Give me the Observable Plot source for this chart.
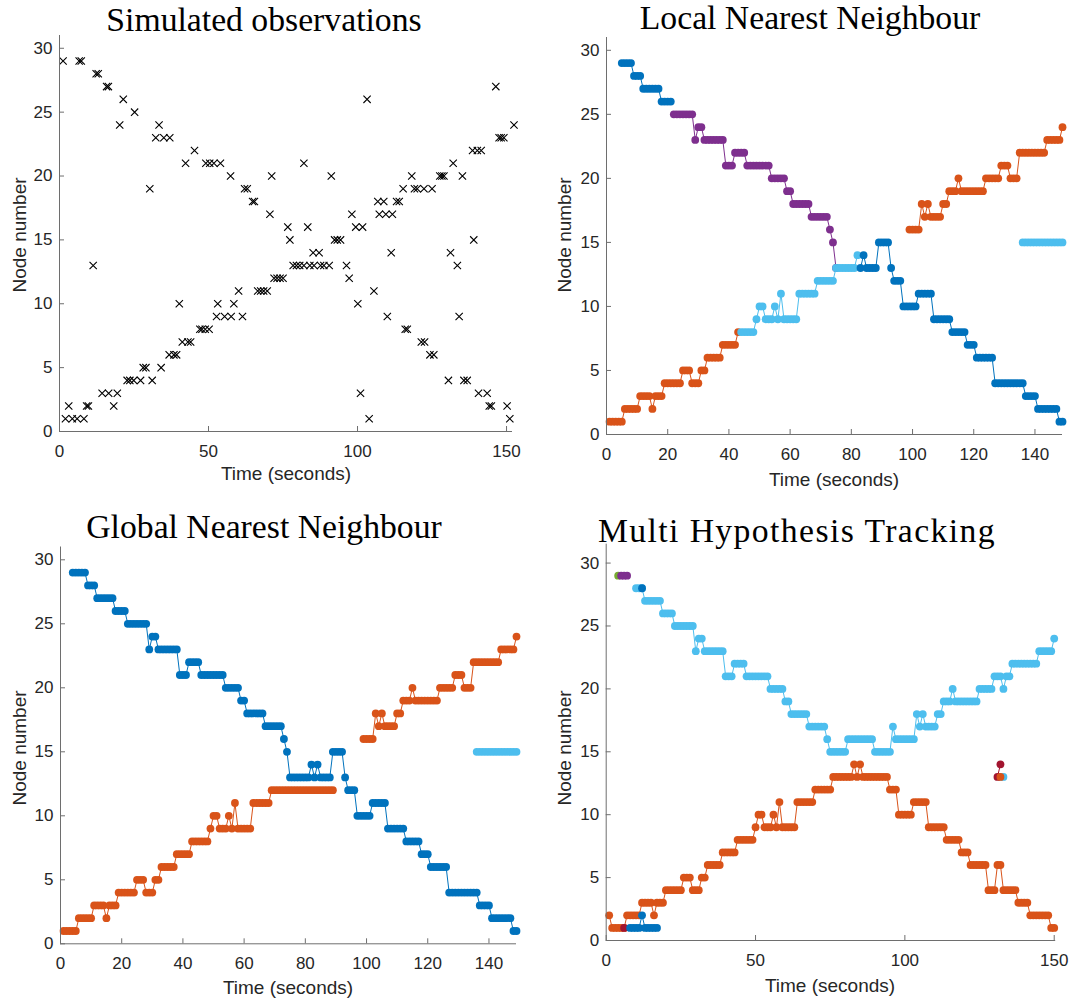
<!DOCTYPE html>
<html>
<head>
<meta charset="utf-8">
<script src="https://cdn.jsdelivr.net/npm/d3@7"></script>
<script src="https://cdn.jsdelivr.net/npm/@observablehq/plot@0.6"></script>
<style>
  body { margin: 0; background: #fff; }
  #fig { position: relative; width: 1072px; height: 999px; overflow: hidden; background: #fff; }
  .panel { position: absolute; }
  .title { position: absolute; font-family: "Liberation Serif", "Times New Roman", serif; font-size: 33.7px; line-height: 1; color: #000; white-space: nowrap; transform: translateX(-50%); }
  .xlab { position: absolute; font-family: "Liberation Sans", Arial, sans-serif; font-size: 19px; line-height: 1; color: #262626; white-space: nowrap; transform: translateX(-50%); }
  .ylab { position: absolute; font-family: "Liberation Sans", Arial, sans-serif; font-size: 19px; line-height: 1; color: #262626; white-space: nowrap; transform: translate(-50%, -50%) rotate(-90deg); }
</style>
</head>
<body>
<div id="fig"></div>
<script>
// ---------- tick values ----------
const yTicks = [0, 5, 10, 15, 20, 25, 30];
const xTicksCoarse = [0, 50, 100, 150];
const xTicksFine = [0, 20, 40, 60, 80, 100, 120, 140];

// ---------- MATLAB default line colours ----------
const cBlue = "#0072BD", cOrange = "#D95319", cPurple = "#7E2F8E",
      cGreen = "#77AC30", cCyan = "#4DBEEE", cRed = "#A2142F";

// ---------- simulated observations: node number and the times it was observed ----------
const obsNodes = [29, 28, 27, 26, 25, 24, 23, 22, 21, 20, 19, 18, 17, 16, 15, 14, 13, 12, 11, 10, 9, 8, 7, 6, 5, 4, 3, 2, 1];
const obsTimes = [
  [1.2, 6.6, 7.3],
  [12.3, 13.0],
  [15.8, 16.4, 146.4],
  [21.4, 103.2],
  [25.2],
  [20.2, 33.4, 152.5],
  [32.3, 35.0, 37.0, 147.5, 148.2, 149.1],
  [45.3, 138.6, 140.2, 141.5],
  [42.3, 49.1, 50.4, 51.8, 54.0, 82.0, 132.1],
  [57.4, 71.2, 91.2, 118.2, 127.6, 128.3, 129.0, 135.2],
  [30.3, 62.1, 63.0, 115.3, 119.1, 120.0, 122.3, 125.0],
  [64.8, 65.4, 106.8, 108.8, 113.1, 114.0],
  [70.6, 98.1, 107.3, 109.5, 111.7],
  [76.6, 83.3, 99.4, 101.7],
  [77.3, 92.3, 93.2, 94.3, 139.0],
  [85.1, 87.1, 111.3, 131.2],
  [11.3, 78.4, 79.5, 80.6, 82.0, 84.0, 85.4, 87.6, 88.7, 90.5, 96.3, 133.5],
  [72.0, 73.0, 74.0, 75.0, 97.2],
  [60.1, 66.5, 67.5, 68.5, 69.7, 105.5],
  [40.2, 53.1, 58.5, 100.1],
  [52.7, 55.4, 57.6, 61.4, 110.0, 134.1],
  [47.1, 47.8, 48.9, 50.2, 116.0, 116.7],
  [41.2, 43.1, 44.0, 121.4, 122.5],
  [36.8, 38.4, 39.3, 124.3, 125.6],
  [28.1, 29.0, 34.1],
  [22.7, 23.6, 24.9, 27.2, 31.1, 130.5, 135.7, 136.8],
  [14.3, 16.5, 19.4, 101.0, 140.6, 143.5],
  [3.1, 9.1, 9.7, 18.2, 144.2, 144.9, 150.2],
  [2.0, 4.3, 5.9, 8.2, 103.9, 151.1]
];

// ---------- tracks: runs of [node, first second, last second] ----------
// Local Nearest Neighbour
const lnnBlueA = [[29,5,8],[28,9,11],[27,12,17],[26,18,21]];
const lnnOrangeA = [[1,1,5],[2,6,10],[3,11,14],[2,15,15],[3,16,18],[4,19,24],[5,25,27],[4,28,30],[5,31,32],[6,33,37],[7,38,42],[8,43,43]];
const lnnPurple = [[25,22,28],[23,29,29],[24,30,31],[23,32,38],[21,39,41],[22,42,45],[21,46,53],[20,54,58],[19,59,60],[18,61,66],[17,67,72],[16,73,73],[15,74,74],[13,75,75]];
const lnnCyanA = [[8,44,48],[9,49,49],[10,50,51],[9,52,54],[10,55,55],[9,56,56],[11,57,57],[9,58,62],[11,63,68],[12,69,74],[13,75,81],[14,82,82]];
const lnnBlueB = [[13,83,83],[14,84,84],[13,85,88],[15,89,92],[13,93,93],[12,94,96],[10,97,101],[11,102,106],[9,107,112],[8,113,117],[7,118,120],[6,121,126],[4,127,136],[3,137,140],[2,141,147],[1,148,149]];
const lnnOrangeB = [[16,99,102],[18,103,103],[17,104,104],[18,105,105],[17,106,109],[18,110,111],[19,112,114],[20,115,115],[19,116,123],[20,124,128],[21,129,131],[20,132,134],[22,135,143],[23,144,148],[24,149,149]];
const lnnCyanB = [[15,136,149]];

// Global Nearest Neighbour
const gnnBlue = [[29,4,8],[28,9,11],[27,12,17],[26,18,21],[25,22,28],[23,29,29],[24,30,31],[23,32,38],[21,39,41],[22,42,45],[21,46,53],[20,54,58],[19,59,60],[18,61,66],[17,67,72],[16,73,73],[15,74,74],[13,75,81],[14,82,82],[13,83,83],[14,84,84],[13,85,88],[15,89,92],[13,93,93],[12,94,96],[10,97,101],[11,102,106],[9,107,112],[8,113,117],[7,118,120],[6,121,126],[4,127,136],[3,137,140],[2,141,147],[1,148,149]];
const gnnOrangeA = [[1,1,5],[2,6,10],[3,11,14],[2,15,15],[3,16,18],[4,19,24],[5,25,27],[4,28,30],[5,31,32],[6,33,37],[7,38,42],[8,43,48],[9,49,49],[10,50,51],[9,52,54],[10,55,55],[9,56,56],[11,57,57],[9,58,62],[11,63,68],[12,69,89]];
const gnnOrangeB = [[16,99,102],[18,103,103],[17,104,104],[18,105,105],[17,106,109],[18,110,111],[19,112,114],[20,115,115],[19,116,123],[20,124,128],[21,129,131],[20,132,134],[22,135,143],[23,144,148],[24,149,149]];
const gnnCyan = [[15,136,149]];

// Multi Hypothesis Tracking
const mhtGreen = [[29,4,4]];
const mhtPurple = [[29,5,7]];
const mhtCyanA = [[28,10,12],[27,13,18],[26,19,22],[25,23,29],[23,30,30],[24,31,32],[23,33,39],[21,40,42],[22,43,46],[21,47,54],[20,55,59],[19,60,61],[18,62,67],[17,68,73],[16,74,74],[15,75,80],[16,81,89],[15,90,95],[17,96,96],[16,97,103],[18,104,104],[17,105,105],[18,106,106],[17,107,110],[18,111,112],[19,113,115],[20,116,116],[19,117,124],[20,125,129],[21,130,132],[20,133,133],[21,134,135],[22,136,144],[23,145,149],[24,150,150]];
const mhtBlueTop = [[28,12,12]];
const mhtOrangeA = [[2,1,1],[1,2,6],[2,7,11],[3,12,15],[2,16,16],[3,17,19],[4,20,25],[5,26,28],[4,29,31],[5,32,33],[6,34,38],[7,39,43],[8,44,49],[9,50,50],[10,51,52],[9,53,55],[10,56,56],[9,57,57],[11,58,58],[9,59,63],[11,64,69],[12,70,75],[13,76,82],[14,83,83],[13,84,84],[14,85,85],[13,86,94],[12,95,97],[10,98,102],[11,103,107],[9,108,113],[8,114,118],[7,119,121],[6,122,127],[4,128,130],[6,131,132],[4,133,137],[3,138,141],[2,142,148],[1,149,150]];
const mhtRedA = [[1,6,6]];
const mhtBlueLow = [[1,8,11],[2,12,12],[1,13,17]];
const mhtCyanB = [[13,132,133]];
const mhtRedB = [[13,131,131],[14,132,132]];
const mhtOrangeB = [[13,132,132]];

// ---------- helpers ----------
function expand(runs) {
  const pts = [];
  for (const [node, t0, t1] of runs) for (let t = t0; t <= t1; t++) pts.push({t, node});
  return pts;
}
function trackMarks(runs, color) {
  const pts = expand(runs);
  return [
    Plot.line(pts, {x: "t", y: "node", stroke: color, strokeWidth: 1}),
    Plot.dot(pts, {x: "t", y: "node", fill: color, r: 3.9, stroke: "none"})
  ];
}

const axisColor = "#6e6e6e";
const font = "'Liberation Sans', Arial, Helvetica, sans-serif";

function panel({w, h, ml, mr, mt, mb, xDomain, xTicks, yDomain, marks}) {
  return Plot.plot({
    width: w, height: h,
    marginLeft: ml, marginRight: mr, marginTop: mt, marginBottom: mb,
    x: {domain: xDomain},
    y: {domain: yDomain},
    style: {fontFamily: font, fontSize: "17px", color: "#262626", background: "transparent", overflow: "visible"},
    marks: [
      ...marks,
      Plot.ruleY([0], {stroke: axisColor, strokeWidth: 1}),
      Plot.ruleX([0], {stroke: axisColor, strokeWidth: 1}),
      // inward ticks
      Plot.axisX(xTicks, {tickSize: -5, text: null, stroke: axisColor, label: null}),
      Plot.axisY(yTicks, {tickSize: -5, text: null, stroke: axisColor, label: null}),
      // tick labels
      Plot.axisX(xTicks, {tickSize: 0, tickPadding: 13, label: null, fill: "#262626"}),
      Plot.axisY(yTicks, {tickSize: 0, tickPadding: 7, label: null, fill: "#262626"})
    ]
  });
}

// ---------- panels ----------
const obsPts = obsNodes.flatMap((n, i) => obsTimes[i].map(t => ({t, node: n})));

const p1 = panel({
  w: 536, h: 500, ml: 59, mr: 24, mt: 35, mb: 69,
  xDomain: [0, 152], xTicks: xTicksCoarse, yDomain: [0, 31],
  marks: [Plot.dot(obsPts, {x: "t", y: "node", symbol: "times", r: 3.4, stroke: "#000", strokeWidth: 1.1})]
});

const p2 = panel({
  w: 536, h: 500, ml: 70, mr: 10, mt: 37, mb: 66,
  xDomain: [0, 149], xTicks: xTicksFine, yDomain: [0, 31],
  marks: [
    ...trackMarks(lnnBlueA, cBlue),
    ...trackMarks(lnnOrangeA, cOrange),
    ...trackMarks(lnnPurple, cPurple),
    ...trackMarks(lnnCyanA, cCyan),
    ...trackMarks(lnnBlueB, cBlue),
    ...trackMarks(lnnOrangeB, cOrange),
    ...trackMarks(lnnCyanB, cCyan)
  ]
});

const p3 = panel({
  w: 536, h: 499, ml: 60, mr: 20, mt: 46.5, mb: 55.7,
  xDomain: [0, 149], xTicks: xTicksFine, yDomain: [0, 31],
  marks: [
    ...trackMarks(gnnBlue, cBlue),
    ...trackMarks(gnnOrangeA, cOrange),
    ...trackMarks(gnnOrangeB, cOrange),
    ...trackMarks(gnnCyan, cCyan)
  ]
});

const p4 = panel({
  w: 536, h: 499, ml: 69.7, mr: 16.8, mt: 43.7, mb: 59,
  xDomain: [0, 150.5], xTicks: xTicksCoarse, yDomain: [0, 31.5],
  marks: [
    ...trackMarks(mhtGreen, cGreen),
    ...trackMarks(mhtPurple, cPurple),
    ...trackMarks(mhtCyanA, cCyan),
    ...trackMarks(mhtBlueTop, cBlue),
    ...trackMarks(mhtOrangeA, cOrange),
    ...trackMarks(mhtRedA, cRed),
    ...trackMarks(mhtBlueLow, cBlue),
    ...trackMarks(mhtCyanB, cCyan),
    ...trackMarks(mhtRedB, cRed),
    ...trackMarks(mhtOrangeB, cOrange)
  ]
});

const fig = document.getElementById("fig");
function place(svg, left, top) {
  const d = document.createElement("div");
  d.className = "panel";
  d.style.left = left + "px";
  d.style.top = top + "px";
  d.appendChild(svg);
  fig.appendChild(d);
}
place(p1, 0, 0);
place(p2, 536, 0);
place(p3, 0, 500);
place(p4, 536, 500);

// ---------- titles and axis labels (baseline positions) ----------
function addText(cls, text, x, baseline, size, ratio, spacing) {
  const d = document.createElement("div");
  d.className = cls;
  d.textContent = text;
  d.style.left = x + "px";
  d.style.top = (baseline - ratio * size) + "px";
  if (spacing) d.style.letterSpacing = spacing + "px";
  fig.appendChild(d);
}
function addYLabel(text, x, y) {
  const d = document.createElement("div");
  d.className = "ylab";
  d.textContent = text;
  d.style.left = x + "px";
  d.style.top = y + "px";
  fig.appendChild(d);
}
const serifRatio = 0.8375, sansRatio = 0.8465, titleSize = 33.7;
addText("title", "Simulated observations", 264, 31, titleSize, serifRatio);
addText("title", "Local Nearest Neighbour", 810, 29, titleSize, serifRatio);
addText("title", "Global Nearest Neighbour", 264, 538, titleSize, serifRatio);
addText("title", "Multi Hypothesis Tracking", 797, 542, titleSize, serifRatio, 1.4);

addText("xlab", "Time (seconds)", 286, 480, 19, sansRatio);
addText("xlab", "Time (seconds)", 834, 486, 19, sansRatio);
addText("xlab", "Time (seconds)", 288, 994, 19, sansRatio);
addText("xlab", "Time (seconds)", 830, 992, 19, sansRatio);

addYLabel("Node number", 19, 235);
addYLabel("Node number", 564, 235);
addYLabel("Node number", 19, 748);
addYLabel("Node number", 564, 748);
</script>
</body>
</html>
